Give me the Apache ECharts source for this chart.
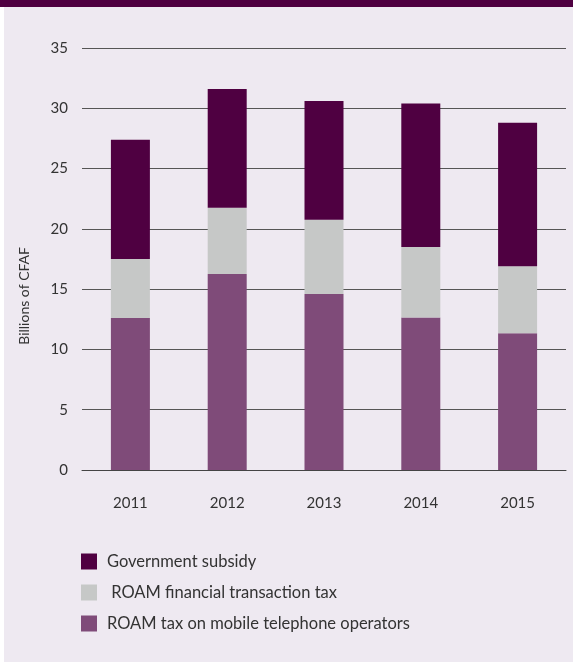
<!DOCTYPE html>
<html>
<head>
<meta charset="utf-8">
<script src="https://cdn.jsdelivr.net/npm/echarts@6/dist/echarts.min.js"></script>
<style>
  html, body { margin: 0; padding: 0; background: #ffffff; }
  #chart { width: 573px; height: 662px; }
</style>
</head>
<body>
<div id="chart"></div>
<script>
// Funding of the universal service fund, billions of CFAF
const years = ['2011', '2012', '2013', '2014', '2015'];
const mobileOperatorTax = [12.6, 16.25, 14.6, 12.65, 11.35];
const financialTransactionTax = [4.9, 5.5, 6.15, 5.85, 5.55];
const governmentSubsidy = [9.9, 9.85, 9.85, 11.9, 11.9];
const yTicks = [0, 5, 10, 15, 20, 25, 30, 35];

const seriesNames = {
  subsidy: 'Government subsidy',
  financial: ' ROAM financial transaction tax',
  mobile: 'ROAM tax on mobile telephone operators'
};

const colors = {
  subsidy: '#4f0041',
  financial: '#c6c8c7',
  mobile: '#7f4b79'
};

const font = 'Lato, "Open Sans", sans-serif';
const chart = echarts.init(document.getElementById('chart'), null, { renderer: 'canvas' });

chart.setOption({
  animation: false,
  backgroundColor: '#ffffff',
  graphic: [
    { type: 'rect', z: -10, shape: { x: 4, y: 0, width: 569, height: 662 }, style: { fill: '#eee9f1' }, silent: true },
    { type: 'rect', z: -9, shape: { x: 0, y: 0, width: 573, height: 7 }, style: { fill: '#4f0041' }, silent: true },
    {
      type: 'text', left: 17, top: 247, rotation: Math.PI / 2,
      style: { text: 'Billions of CFAF', font: '14px ' + font, fill: '#333333' }
    }
  ],
  grid: { left: 82, right: 7, top: 48, bottom: 192, containLabel: false },
  legend: {
    orient: 'vertical',
    left: 81,
    top: 553,
    padding: 0,
    icon: 'rect',
    itemWidth: 16,
    itemHeight: 16,
    itemGap: 14,
    selectedMode: false,
    data: [seriesNames.subsidy, seriesNames.financial, seriesNames.mobile],
    textStyle: { fontFamily: font, fontSize: 16.5, color: '#333333', padding: [0, 0, 0, 5] }
  },
  xAxis: {
    type: 'category',
    data: years,
    axisLine: { show: true, lineStyle: { color: '#444444', width: 1 } },
    axisTick: { show: false },
    axisLabel: { fontFamily: font, fontSize: 15, color: '#333333', margin: 26 }
  },
  yAxis: {
    type: 'value',
    min: yTicks[0],
    max: yTicks[yTicks.length - 1],
    interval: 5,
    axisLine: { show: false },
    axisTick: { show: false },
    splitLine: { show: true, lineStyle: { color: '#555555', width: 1 } },
    axisLabel: { fontFamily: font, fontSize: 15, color: '#333333', margin: 14 }
  },
  series: [
    {
      name: seriesNames.mobile, type: 'bar', stack: 'fund', barWidth: 39,
      itemStyle: { color: colors.mobile }, data: mobileOperatorTax
    },
    {
      name: seriesNames.financial, type: 'bar', stack: 'fund', barWidth: 39,
      itemStyle: { color: colors.financial }, data: financialTransactionTax
    },
    {
      name: seriesNames.subsidy, type: 'bar', stack: 'fund', barWidth: 39,
      itemStyle: { color: colors.subsidy }, data: governmentSubsidy
    }
  ]
});
</script>
</body>
</html>
